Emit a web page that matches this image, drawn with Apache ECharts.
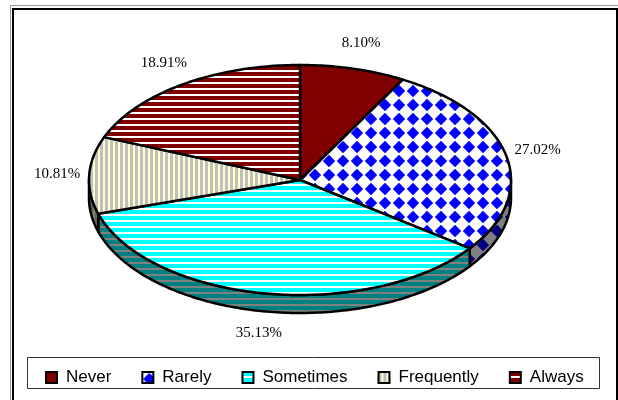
<!DOCTYPE html>
<html><head><meta charset="utf-8">
<script src="https://cdn.jsdelivr.net/npm/echarts@6.0.0/dist/echarts.min.js"></script>
<style>html,body{margin:0;padding:0;background:#fff}#c{width:618px;height:400px}</style>
</head><body><div id="c"></div>
<script>
const categories = ['Never', 'Rarely', 'Sometimes', 'Frequently', 'Always'];
const values = [8.10, 27.02, 35.13, 10.81, 18.91];
const valueLabels = ['8.10%', '27.02%', '35.13%', '10.81%', '18.91%'];

// ---- layout & style ----
const CX = 300, CY = 180, RX = 211, RY = 115, DEPTH = 18;

function mk(w, h, draw) {
  const c = document.createElement('canvas'); c.width = w; c.height = h;
  const g = c.getContext('2d'); draw(g, w, h);
  return { image: c, repeat: 'repeat' };
}
function solid(col) { return mk(4, 4, (g, w, h) => { g.fillStyle = col; g.fillRect(0, 0, w, h); }); }
function hstripe(a, b) { return mk(6, 6, g => { g.fillStyle = a; g.fillRect(0, 0, 6, 6); g.fillStyle = b; g.fillRect(0, 4, 6, 2); }); }
function vstripe(a, b) { return mk(5, 5, g => { g.fillStyle = a; g.fillRect(0, 0, 5, 5); g.fillStyle = b; g.fillRect(3, 0, 2, 5); }); }
function diamonds(bg, fg) {
  return mk(14, 14, g => {
    g.fillStyle = bg; g.fillRect(0, 0, 14, 14);
    g.fillStyle = fg; g.beginPath();
    const c = 7, r = 6.2;
    g.moveTo(c, c - r); g.lineTo(c + r, c); g.lineTo(c, c + r); g.lineTo(c - r, c); g.closePath(); g.fill();
  });
}
const topFills = [solid('#800000'), diamonds('#fcfcfc', '#0000ff'), hstripe('#00ffff', '#ffffff'), vstripe('#c0c0c0', '#ffffcc'), hstripe('#800000', '#ffffff')];
const sideFills = [solid('#400000'), diamonds('#808080', '#000080'), hstripe('#008080', '#808080'), vstripe('#606060', '#808066'), hstripe('#400000', '#808080')];

const total = values.reduce((a, b) => a + b, 0);
const starts = []; let acc = 0; values.forEach(v => { starts.push(acc); acc += v; });

function makeRender(i) {
  return function (params, api) {
    const v = api.value(0);
    const a0 = starts[i] / total * 2 * Math.PI, a1 = a0 + v / total * 2 * Math.PI;
    const P = (a, dy) => [CX + RX * Math.sin(a), CY - RY * Math.cos(a) + dy];
    const arc = (s, e, dy) => {
      const n = Math.max(2, Math.ceil((e - s) / (Math.PI / 180)));
      const pts = []; for (let k = 0; k <= n; k++) pts.push(P(s + (e - s) * k / n, dy)); return pts;
    };
    const children = [];
    const s0 = Math.max(a0, Math.PI / 2), s1 = Math.min(a1, 1.5 * Math.PI);
    if (s1 > s0) {
      const top = arc(s0, s1, 0), bot = arc(s0, s1, DEPTH).reverse();
      children.push({ type: 'polygon', shape: { points: top.concat(bot) },
        style: { fill: sideFills[i], stroke: '#000', lineWidth: 2.5, lineJoin: 'round' } });
    }
    children.push({ type: 'polygon', shape: { points: [[CX, CY]].concat(arc(a0, a1, 0)) },
      style: { fill: topFills[i], stroke: '#000', lineWidth: 2.5, lineJoin: 'round' } });
    const m = (a0 + a1) / 2;
    const lx = CX + (RX + 32) * Math.sin(m);
    const ly = CY - (RY + 26) * Math.cos(m) + (Math.cos(m) < 0 ? DEPTH * 0.8 : 0);
    children.push({ type: 'text', style: { text: valueLabels[i], x: lx, y: ly, align: 'center', verticalAlign: 'middle',
      font: '15px "Liberation Serif"', fill: '#000' } });
    return { type: 'group', children };
  };
}

const chart = echarts.init(document.getElementById('c'), null, { renderer: 'canvas' });
chart.setOption({
  backgroundColor: '#ffffff',
  animation: false,
  graphic: [
    { type: 'rect', shape: { x: 10.5, y: 5.5, width: 700, height: 500 }, style: { fill: 'none', stroke: '#999', lineWidth: 1 }, silent: true },
    { type: 'rect', shape: { x: 13, y: 9, width: 604, height: 500 }, style: { fill: 'none', stroke: '#000', lineWidth: 2 }, silent: true },
    { type: 'rect', shape: { x: 27.5, y: 357.5, width: 572, height: 31 }, style: { fill: 'none', stroke: '#333', lineWidth: 1 }, silent: true }
  ],
  legend: {
    left: 45, top: 369, padding: 0, itemGap: 30, itemWidth: 11, itemHeight: 11, icon: 'rect',
    itemStyle: { borderColor: '#000', borderWidth: 2 },
    textStyle: { fontFamily: '"Liberation Sans"', fontSize: 17, color: '#000', lineHeight: 11, padding: [0, 0, 0, 4] },
    data: categories
  },
  series: categories.map((name, i) => ({
    type: 'custom', name, coordinateSystem: 'none', silent: true,
    renderItem: makeRender(i), data: [values[i]],
    itemStyle: { color: topFills[i], borderColor: '#000', borderWidth: 2 }
  }))
});
</script></body></html>
